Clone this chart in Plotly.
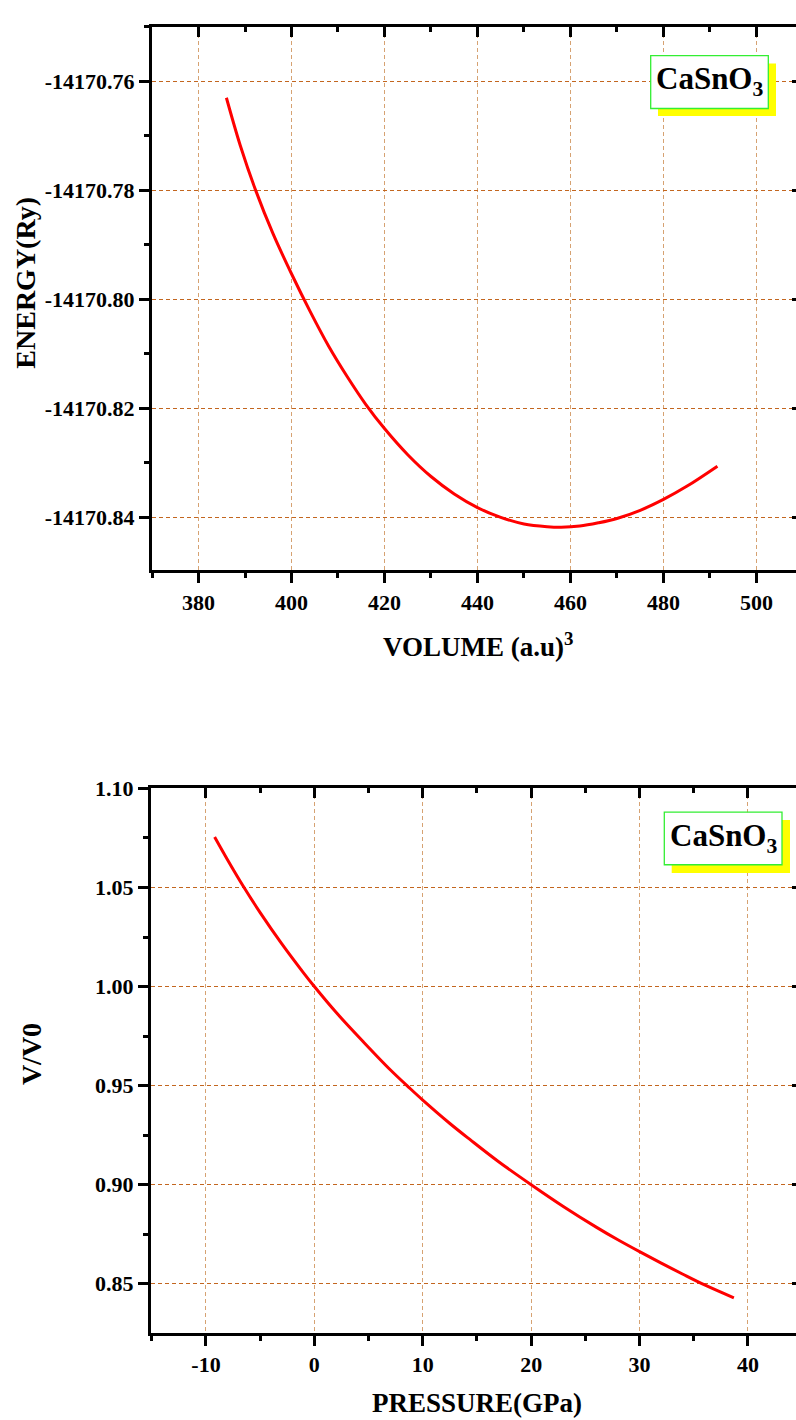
import plotly.graph_objects as go

# ---------------- data ----------------
volume = [386.0, 389.0, 392.3, 396.0, 400.0, 404.0, 408.0, 412.0, 416.0, 420.0,
          425.0, 430.0, 435.0, 440.0, 445.0, 450.0, 455.0, 458.0, 462.0, 466.0,
          470.0, 475.0, 480.0, 485.0, 491.6]
energy = [-14170.7630, -14170.7718, -14170.7800, -14170.7879, -14170.7953,
          -14170.8022, -14170.8086, -14170.8142, -14170.8193, -14170.8237,
          -14170.8285, -14170.8325, -14170.8357, -14170.8382, -14170.8400,
          -14170.8412, -14170.8417, -14170.8418, -14170.8416, -14170.8410,
          -14170.8402, -14170.8387, -14170.8367, -14170.8343, -14170.8306]

pressure = [-9.2, -8.0, -6.5, -5.0, -3.0, -1.0, 0.0, 2.0, 4.5, 7.0, 8.8, 10.0,
            12.5, 14.4, 17.0, 20.0, 23.0, 26.0, 28.0, 30.0, 32.0, 34.0, 36.0, 38.7]
v_ratio = [1.0755, 1.0639, 1.0501, 1.0373, 1.0215, 1.0069, 1.0000, 0.9870,
           0.9722, 0.9580, 0.9487, 0.9427, 0.9309, 0.9226, 0.9116, 0.9000,
           0.8889, 0.8786, 0.8722, 0.8662, 0.8604, 0.8548, 0.8494, 0.8429]

vol_ticks = [380, 400, 420, 440, 460, 480, 500]
vol_labels = ["380", "400", "420", "440", "460", "480", "500"]
en_ticks = [-14170.84, -14170.82, -14170.80, -14170.78, -14170.76]
en_labels = ["-14170.84", "-14170.82", "-14170.80", "-14170.78", "-14170.76"]

p_ticks = [-10, 0, 10, 20, 30, 40]
p_labels = ["-10", "0", "10", "20", "30", "40"]
r_ticks = [0.85, 0.90, 0.95, 1.00, 1.05, 1.10]
r_labels = ["0.85", "0.90", "0.95", "1.00", "1.05", "1.10"]

compound = "CaSnO<sub>3</sub>"

# ---------------- geometry helpers ----------------
W, H = 796, 1420
def px(x):
    return x / W
def py(y):
    return 1 - y / H

FONT = "Liberation Serif"
RED = "#FF0000"
HGRID = "#C3661F"
VGRID = "#D6A272"

fig = go.Figure()
fig.add_trace(go.Scatter(x=volume, y=energy, mode="lines", line=dict(color=RED, width=3, shape="spline"),
                         xaxis="x", yaxis="y", showlegend=False, hoverinfo="skip"))
fig.add_trace(go.Scatter(x=[None], y=[None], xaxis="x3", yaxis="y3", showlegend=False, hoverinfo="skip"))
fig.add_trace(go.Scatter(x=pressure, y=v_ratio, mode="lines", line=dict(color=RED, width=3, shape="spline"),
                         xaxis="x2", yaxis="y2", showlegend=False, hoverinfo="skip"))
fig.add_trace(go.Scatter(x=[None], y=[None], xaxis="x4", yaxis="y4", showlegend=False, hoverinfo="skip"))

tickfont = dict(family=FONT, size=22, color="black", weight=700)

def main_x(rng, tv, tt, mdt, m0, anchor, domain, gridc):
    return dict(range=rng, domain=domain, anchor=anchor, side="bottom",
                tickmode="array", tickvals=tv, ticktext=tt, tickfont=tickfont,
                ticks="outside", ticklen=10, tickwidth=3, tickcolor="black",
                minor=dict(ticks="outside", ticklen=5, tickwidth=3, tickcolor="black",
                           tickmode="linear", tick0=m0, dtick=mdt, showgrid=False),
                showline=True, linewidth=3, linecolor="black",
                showgrid=True, gridcolor=gridc, gridwidth=1, griddash="4px,3px",
                zeroline=False, fixedrange=True)

def main_y(rng, tv, tt, mdt, m0, anchor, domain, gridc):
    d = main_x(rng, tv, tt, mdt, m0, anchor, domain, gridc)
    d["side"] = "left"
    return d

def top_x(rng, tv, mdt, m0, over, anchor):
    return dict(range=rng, overlaying=over, anchor=anchor, side="top",
                tickmode="array", tickvals=tv, showticklabels=False,
                ticks="inside", ticklen=10, tickwidth=3, tickcolor="black",
                minor=dict(ticks="inside", ticklen=5, tickwidth=3, tickcolor="black",
                           tickmode="linear", tick0=m0, dtick=mdt, showgrid=False),
                showline=True, linewidth=3, linecolor="black",
                showgrid=False, zeroline=False, fixedrange=True)

def right_y(rng, tv, over, anchor):
    return dict(range=rng, overlaying=over, anchor=anchor, side="right",
                tickmode="array", tickvals=tv, showticklabels=False,
                ticks="inside", ticklen=4, tickwidth=3, tickcolor="black",
                showline=False, showgrid=False, zeroline=False, fixedrange=True)

xr1 = [370.0, 508.5]
yr1 = [-14170.8497, -14170.75]
xr2 = [-15.07, 44.43]
yr2 = [0.8253, 1.10]

dom_x1 = [px(152), 1.0]
dom_y1 = [py(563), py(15)]
dom_x2 = [px(151), 1.0]
dom_y2 = [py(1332), py(783)]

fig.update_layout(
    width=W, height=H,
    margin=dict(l=0, r=0, t=0, b=0),
    paper_bgcolor="white", plot_bgcolor="white",
    showlegend=False,
    xaxis=main_x(xr1, vol_ticks, vol_labels, 10, 370, "y", dom_x1, VGRID),
    yaxis=main_y(yr1, en_ticks, en_labels, 0.01, -14170.75, "x", dom_y1, HGRID),
    xaxis3=top_x(xr1, vol_ticks, 10, 370, "x", "y"),
    yaxis3=right_y(yr1, en_ticks, "y", "x"),
    xaxis2=main_x(xr2, p_ticks, p_labels, 5, -15, "y2", dom_x2, VGRID),
    yaxis2=main_y(yr2, r_ticks, r_labels, 0.025, 0.825, "x2", dom_y2, HGRID),
    xaxis4=top_x(xr2, p_ticks, 5, -15, "x2", "y2"),
    yaxis4=right_y(yr2, r_ticks, "y2", "x2"),
)

vtitle = dict(family=FONT, size=28, color="black", weight=700)
htitle = dict(family=FONT, size=27, color="black", weight=700)
legfont = dict(family=FONT, size=31, color="black", weight=700)
ann = [
    dict(text="ENERGY(Ry)", x=px(26), y=py(273), textangle=-90, font=vtitle),
    dict(text="VOLUME (a.u)<sup>3</sup>", x=px(478), y=py(638), font=htitle),
    dict(text="V/V0", x=px(31), y=py(1051), textangle=-90, font=vtitle),
    dict(text="PRESSURE(GPa)", x=px(476.5), y=py(1403), font=htitle),
    dict(text=compound, x=px(709), y=py(70), font=legfont),
    dict(text=compound, x=px(723), y=py(833), font=legfont),
]
for a in ann:
    a.update(xref="paper", yref="paper", showarrow=False, xanchor="center", yanchor="middle")
fig.update_layout(annotations=ann)

shapes = [
    dict(type="rect", x0=px(658), x1=px(776), y0=py(105), y1=py(52), fillcolor="#FFFF00", line=dict(width=0)),
    dict(type="rect", x0=px(650.7), x1=px(768.3), y0=py(97.3), y1=py(44), fillcolor="white",
         line=dict(color="#33EE33", width=1.3)),
    dict(type="rect", x0=px(671.7), x1=px(790), y0=py(868.3), y1=py(815), fillcolor="#FFFF00", line=dict(width=0)),
    dict(type="rect", x0=px(664.3), x1=px(782), y0=py(860), y1=py(807), fillcolor="white",
         line=dict(color="#33EE33", width=1.3)),
]
for s in shapes:
    s.update(xref="paper", yref="paper", layer="above")
fig.update_layout(shapes=shapes)

fig.write_html("out.html",
               config={"displayModeBar": False},
               post_script="document.body.style.margin='0px';document.body.style.overflow='hidden';")
